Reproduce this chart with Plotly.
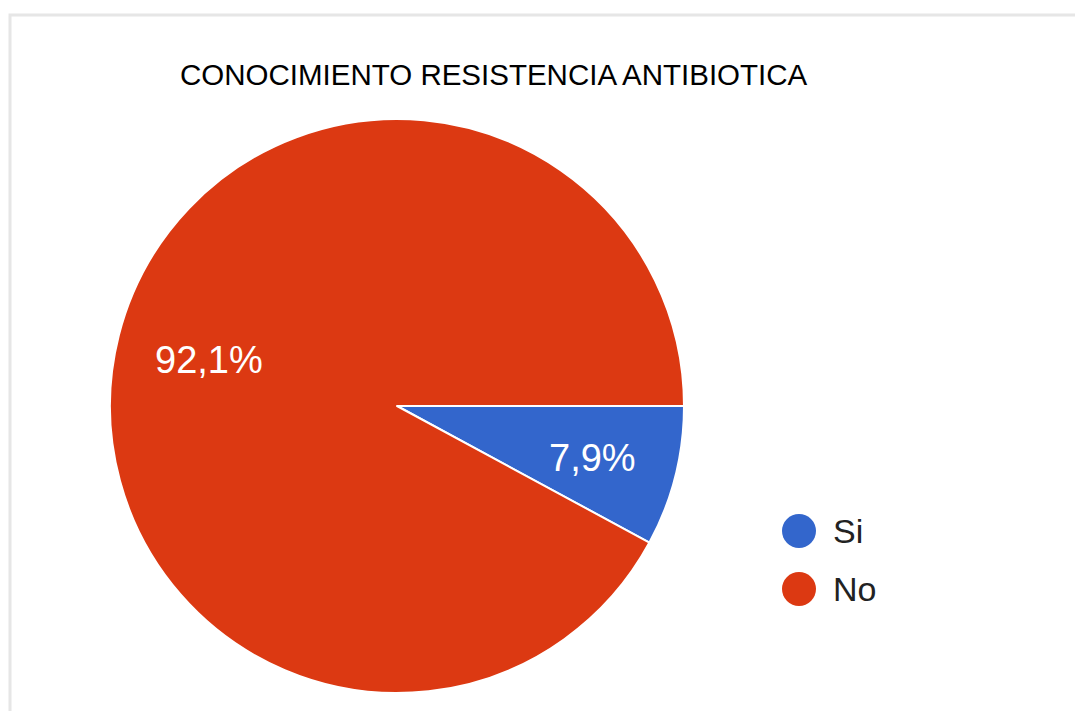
import math
import plotly.graph_objects as go

# Survey answers (counts) and styling lists
labels = ["Si", "No"]
counts = [3, 35]
colors = ["#3366CC", "#DC3912"]
title_text = "CONOCIMIENTO RESISTENCIA ANTIBIOTICA"

OFF = 8  # page body margin
W, H = 1083 - OFF, 711 - OFF
FONT = "Arial, Liberation Sans, sans-serif"


def px_x(x):
    return (x - OFF) / W


def px_y(y):
    return 1 - (y - OFF) / H


# pie geometry (screen pixels)
CX, CY, R = 397, 406, 287

fig = go.Figure()

fig.add_trace(go.Pie(
    labels=labels, values=counts, sort=False,
    direction="clockwise", rotation=90,
    marker=dict(colors=colors, line=dict(color="white", width=2)),
    textinfo="none",
    domain=dict(x=[px_x(CX - R), px_x(CX + R)], y=[px_y(CY + R), px_y(CY - R)]),
    showlegend=False, hoverinfo="label+percent",
))

# percentage labels placed along each slice's mid angle
annotations = []
total = sum(counts)
cum = 0
for c in counts:
    frac = c / total
    mid = (cum + frac / 2) * 2 * math.pi  # clockwise from 3 o'clock
    cum += frac
    lx = CX + 0.69 * R * math.cos(mid) + 4
    ly = CY + 0.69 * R * math.sin(mid) + 3
    annotations.append(dict(text=f"{frac * 100:.1f}%".replace(".", ","),
                            xref="paper", yref="paper", x=px_x(lx), y=px_y(ly),
                            xanchor="center", yanchor="middle", showarrow=False,
                            font=dict(family=FONT, size=38, color="white")))

# frame around the chart
shapes = [dict(type="rect", xref="paper", yref="paper",
               x0=px_x(10), x1=px_x(1100), y0=px_y(730), y1=px_y(15),
               line=dict(color="#e6e6e6", width=3), layer="below")]

# custom legend with large circles
for i, (lab, col) in enumerate(zip(labels, colors)):
    cy = 531 + i * 58
    shapes.append(dict(type="circle", xref="paper", yref="paper",
                       x0=px_x(782), x1=px_x(816), y0=px_y(cy + 17), y1=px_y(cy - 17),
                       fillcolor=col, line=dict(width=0)))
    annotations.append(dict(text=lab, xref="paper", yref="paper",
                            x=px_x(831), y=px_y(cy), xanchor="left", yanchor="middle",
                            showarrow=False, font=dict(family=FONT, size=34, color="#222222")))

fig.update_layout(
    width=W, height=H,
    margin=dict(l=0, r=0, t=0, b=0),
    paper_bgcolor="white", plot_bgcolor="white",
    title=dict(text=title_text, x=px_x(180), xanchor="left",
               y=px_y(75), yanchor="middle", xref="paper",
               font=dict(family=FONT, size=29.5, color="#000000")),
    shapes=shapes, annotations=annotations,
)

fig.write_html("out.html")
